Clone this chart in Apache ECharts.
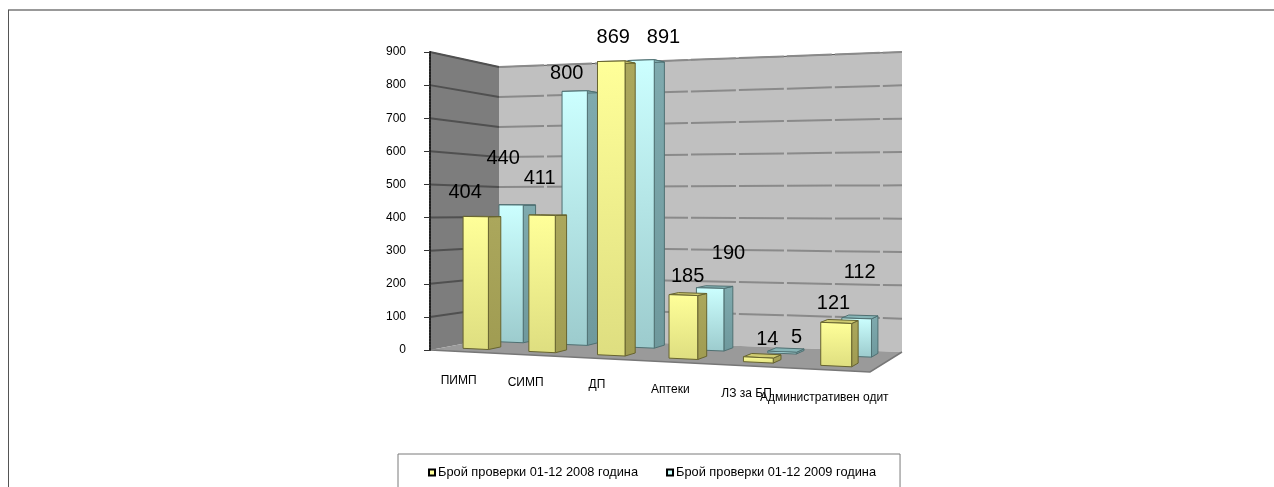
<!DOCTYPE html>
<html><head><meta charset="utf-8">
<style>html,body{margin:0;padding:0;background:#fff;overflow:hidden}#c{width:1274px;height:487px;filter:blur(.4px)}</style>
<script src="https://cdn.jsdelivr.net/npm/echarts@6/dist/echarts.min.js"></script>
</head><body><div id="c"></div>
<script>
const categories = ['ПИМП','СИМП','ДП','Аптеки','ЛЗ за БП','Административен одит'];
const name2008 = 'Брой проверки 01-12 2008 година';
const name2009 = 'Брой проверки 01-12 2009 година';
const values2008 = [404,411,869,185,14,121];
const values2009 = [440,800,891,190,5,112];
const yTicks = [0,100,200,300,400,500,600,700,800,900];

// layout only: nudges of the text relative to where the projection puts it
const shift2008 = [[-10.6,-24],[-2.4,-37],[2,-23.6],[4.3,-18.4],[9,-17.4],[-2.7,-18.8]];
const shift2009 = [[-8,-46],[-8,-17.5],[22.4,-23],[18.3,-34],[14.5,-14],[3,-45]];
const catShift = [[-4,3],[-4.5,2],[-3.5,0],[-3.5,1],[-3.5,2],[-5,2]];

const G = {left:430, top:52, width:440, height:298};
// floor corners and wall height of the oblique view
const FL=[430,350], FR=[870,372], BL=[499,337], BR=[902,352];
const HF=[298,330], HB=[270,300];
const warp = u => .88*u + .12*u*u;
const mix = (a,b,t) => a+(b-a)*t;
function project(u,v,f){
  const t = warp(u);
  const x = mix(mix(FL[0],FR[0],t), mix(BL[0],BR[0],t), v);
  const y = mix(mix(FL[1],FR[1],t), mix(BL[1],BR[1],t), v);
  const h = mix(mix(HF[0],HF[1],t), mix(HB[0],HB[1],t), v);
  return [x, y - f*h];
}
const vert = (a,b) => new echarts.graphic.LinearGradient(0,0,0,1,[{offset:0,color:a},{offset:1,color:b}]);
const base = G.top + G.height;

function barSeries(name, values, opts){
  return {
    name, type:'custom', coordinateSystem:'cartesian2d', clip:false, z:opts.z,
    silent:true,
    itemStyle:{color:opts.legend},
    data: values.map((v,i)=>[i,v]),
    encode:{x:0,y:1},
    renderItem(params, api){
      const i = api.value(0), val = api.value(1);
      const c = api.coord([i,val]);
      const f = (base - c[1]) / G.height;
      const uc = (c[0]-G.left)/G.width;
      const u0 = uc - .015 + opts.du, u1 = u0 + .065;
      const v0 = opts.v, v1 = v0 + .19;
      const a=project(u0,v0,0), b=project(u1,v0,0), d=project(u1,v1,0);
      const at=project(u0,v0,f), bt=project(u1,v0,f), dt=project(u1,v1,f), et=project(u0,v1,f);
      const s = opts.shift[i];
      const shape = (pts,fill)=>({type:'polygon',shape:{points:pts},style:{fill,stroke:opts.stroke,lineWidth:1}});
      return {type:'group',children:[
        shape([b,d,dt,bt], vert(opts.sideTop,opts.sideBottom)),
        shape([at,bt,dt,et], opts.topFace),
        shape([a,b,bt,at], vert(opts.frontTop,opts.frontBottom)),
        {type:'text',z2:20,style:{text:String(val),x:(at[0]+bt[0])/2+s[0],y:at[1]+s[1],
          align:'center',verticalAlign:'middle',fontSize:20,fontFamily:'Liberation Sans',fill:'#000'}}
      ]};
    }
  };
}

const option = {
  animation:false,
  backgroundColor:'#fff',
  textStyle:{fontFamily:'Liberation Sans'},
  graphic:[
    {type:'line',silent:true,z:0,shape:{x1:8,y1:10,x2:1274,y2:10},style:{stroke:'#999',lineWidth:2}},
    {type:'line',silent:true,z:0,shape:{x1:8.5,y1:10,x2:8.5,y2:487},style:{stroke:'#555',lineWidth:1}}
  ],
  grid:{left:G.left,top:G.top,width:G.width,height:G.height},
  xAxis:{type:'category',data:categories,axisLine:{show:false},axisTick:{show:false},axisLabel:{show:false},splitLine:{show:false}},
  yAxis:{type:'value',min:0,max:900,interval:100,
    axisLine:{show:true,lineStyle:{color:'#222',width:2,type:[2,1]}},
    axisTick:{show:true,length:6,lineStyle:{color:'#333'}},
    axisLabel:{fontSize:12,color:'#000',margin:24,fontFamily:'Liberation Sans'},
    splitLine:{show:false},z:6},
  legend:{
    data:[{name:name2008,itemStyle:{color:'#FFFF99',borderColor:'#000',borderWidth:2}},
          {name:name2009,itemStyle:{color:'#CCFFFF',borderColor:'#000',borderWidth:2}}],
    left:398,top:454,icon:'rect',itemWidth:6,itemHeight:6,itemGap:28,
    padding:[12,24,20,30],
    backgroundColor:'#fff',borderColor:'#7a7a7a',borderWidth:1,borderRadius:0,
    textStyle:{fontSize:12.8,color:'#000',padding:[0,0,0,-2],fontFamily:'Liberation Sans'}
  },
  series:[
    { // walls and floor
      type:'custom',name:'walls',silent:true,z:1,clip:false,coordinateSystem:'cartesian2d',
      data:[[0,yTicks[yTicks.length-1]]],encode:{x:0,y:1},
      renderItem(){
        const pg=(pts,fill)=>({type:'polygon',shape:{points:pts},style:{fill}});
        const top0=project(0,1,1),top1=project(1,1,1),top00=project(0,0,1);
        const p00=project(0,0,0),p10=project(1,0,0),p01=project(0,1,0),p11=project(1,1,0);
        return {type:'group',children:[
          pg([p01,p11,top1,top0],'#c0c0c0'),
          pg([p00,p01,top0,top00],'#7d7d7d'),
          pg([p00,p10,p11,p01],'#9a9a9a'),
          {type:'polyline',shape:{points:[top00,top0,top1]},style:{fill:'none',stroke:'#555',lineWidth:1}},
          {type:'polyline',shape:{points:[p00,p10,p11]},style:{fill:'none',stroke:'#777',lineWidth:1.5}}
        ]};
      }
    },
    { // gridlines follow the two walls
      type:'custom',name:'grid',silent:true,z:2,clip:false,coordinateSystem:'cartesian2d',
      data:yTicks.map(t=>[0,t]),encode:{x:0,y:1},
      renderItem(params,api){
        const f=(base-api.coord([0,api.value(1)])[1])/G.height;
        if(f===0) return {type:'group',children:[]};
        return {type:'group',children:[
          {type:'line',shape:{x1:project(0,0,f)[0],y1:project(0,0,f)[1],x2:project(0,1,f)[0],y2:project(0,1,f)[1]},style:{stroke:'#505050',lineWidth:2}},
          {type:'line',shape:{x1:project(0,1,f)[0],y1:project(0,1,f)[1],x2:project(1,1,f)[0],y2:project(1,1,f)[1]},style:{stroke:'#8a8a8a',lineWidth:2,lineDash:[45,3]}}
        ]};
      }
    },
    barSeries(name2009,values2009,{z:3,v:.7,du:-.012,legend:'#CCFFFF',shift:shift2009,stroke:'#4f7072',
      frontTop:'#CCFFFF',frontBottom:'#9CCBCD',sideTop:'#7FAAAE',sideBottom:'#6F999D',topFace:'#86b5b7'}),
    barSeries(name2008,values2008,{z:4,v:.2,du:-.018,legend:'#FFFF99',shift:shift2008,stroke:'#66632f',
      frontTop:'#FFFF99',frontBottom:'#DEDE80',sideTop:'#ABA75C',sideBottom:'#A09C52',topFace:'#CFCB70'}),
    { // category names along the front of the floor
      type:'custom',name:'cats',silent:true,z:5,clip:false,coordinateSystem:'cartesian2d',
      data:categories.map((c,i)=>[i,0]),encode:{x:0,y:1},
      renderItem(params,api){
        const i=api.value(0),c=api.coord([i,0]);
        const p=project((c[0]-G.left)/G.width,0,0),s=catShift[i];
        return {type:'text',style:{text:categories[i],x:p[0]+s[0],y:p[1]+26+s[1],align:'center',verticalAlign:'middle',
          fontSize:12,fontFamily:'Liberation Sans',fill:'#000'}};
      }
    }
  ]
};
const chart=echarts.init(document.getElementById('c'),null,{renderer:'canvas'});
chart.setOption(option);
</script></body></html>
